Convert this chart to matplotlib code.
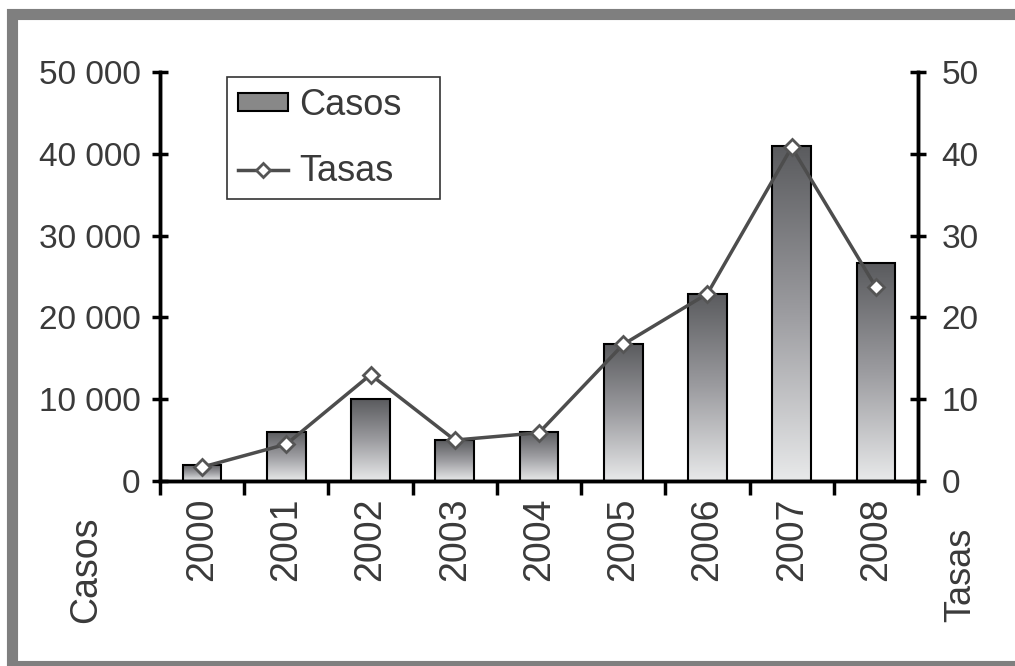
import matplotlib
matplotlib.use('Agg')
import matplotlib.pyplot as plt
import matplotlib.patches as mpatches
import matplotlib.ticker
from matplotlib.lines import Line2D
import numpy as np

plt.rcParams['font.family'] = ['Liberation Sans', 'DejaVu Sans']

years = ['2000', '2001', '2002', '2003', '2004', '2005', '2006', '2007', '2008']
casos = [2000, 6000, 10000, 5000, 6000, 16800, 22900, 41000, 26600]
tasas = [1.7, 4.5, 13.0, 5.0, 5.9, 16.7, 22.9, 40.8, 23.7]

W, H = 1015, 666
fig = plt.figure(figsize=(W / 100, H / 100), dpi=100)
ax = fig.add_axes([160/W, 1-481/H, (918-160)/W, (481-72)/H])
ax2 = ax.twinx()

x = np.arange(len(years))
bars = ax.bar(x, casos, width=0.46, facecolor='none', edgecolor='black', linewidth=1.5, zorder=3)

# vertical gradient inside each bar: dark top, light bottom
grad = np.linspace(0, 1, 256).reshape(-1, 1)
cmap = matplotlib.colors.LinearSegmentedColormap.from_list('g', ['#e8e9ea', '#9c9ca0', '#5a5b5e'])
for b in bars:
    x0, y0 = b.get_x(), b.get_y()
    im = ax.imshow(grad, cmap=cmap, origin='lower', aspect='auto',
                   extent=[x0, x0 + b.get_width(), y0, y0 + b.get_height()], zorder=2)
    im.set_clip_path(b)

txt = '#3a3a3a'
ax.set_xlim(-0.5, len(years) - 0.5)
ax.set_ylim(0, 50000)
ax.yaxis.set_major_locator(matplotlib.ticker.MultipleLocator(10000))
ax.yaxis.set_major_formatter(matplotlib.ticker.FuncFormatter(
    lambda v, p: '{:,.0f}'.format(v).replace(',', ' ')))
ax.set_xticks(x)
ax.set_xticklabels(years, rotation=90, fontsize=27, color=txt)
ax.set_xticks(np.arange(-0.5, len(years)), minor=True)
ax.tick_params(axis='x', which='major', length=0, pad=12)
ax.tick_params(axis='x', which='minor', length=10, width=2.5, direction='out')
ax.tick_params(axis='y', length=12, width=2.5, direction='inout', labelsize=24, labelcolor=txt, pad=8)

ax2.plot(x, tasas, color='#4d4d4d', linewidth=2.5, marker='D', markersize=8,
         markerfacecolor='white', markeredgecolor='#555555', markeredgewidth=2, zorder=5)
ax2.set_ylim(0, 50)
ax2.yaxis.set_major_locator(matplotlib.ticker.MultipleLocator(10))
ax2.tick_params(axis='y', length=12, width=2.5, direction='inout', labelsize=24, labelcolor=txt, pad=11)

for a in (ax, ax2):
    a.spines['top'].set_visible(False)
    for s in ('left', 'right', 'bottom'):
        a.spines[s].set_linewidth(2.5)
ax.set_zorder(1)
ax2.set_zorder(2)
ax2.patch.set_visible(False)

fig.text(86/W, 1-570/H, 'Casos', rotation=90, fontsize=27, color=txt, ha='center', va='center')
fig.text(961/W, 1-575/H, 'Tasas', rotation=90, fontsize=26, color=txt, ha='center', va='center')

handles = [mpatches.Patch(facecolor='#888888', edgecolor='black', linewidth=1.5),
           Line2D([], [], color='#4d4d4d', linewidth=2.5, marker='D', markersize=7,
                  markerfacecolor='white', markeredgecolor='#555555', markeredgewidth=2)]
leg = ax2.legend(handles, ['Casos', 'Tasas'], loc='upper left', mode='expand',
                 bbox_to_anchor=((227-160)/758, (481-197)/409, 213/758, 120/409),
                 fontsize=26, frameon=True, fancybox=False, edgecolor='black',
                 handlelength=1.4, handleheight=0.4, labelspacing=0.85, borderpad=0.3,
                 handletextpad=0.3, borderaxespad=0)
leg.get_frame().set_linewidth(1.2)
for t in leg.get_texts():
    t.set_color(txt)

# grey frame around the whole picture (right edge cut off)
fig.patches.append(mpatches.Rectangle((11.5/W, 0.5/H), (1030-11.5)/W, (665.5-14)/H,
                                      transform=fig.transFigure, fill=False,
                                      edgecolor='#7f7f7f', linewidth=8))

fig.savefig('out.png', dpi=100)
